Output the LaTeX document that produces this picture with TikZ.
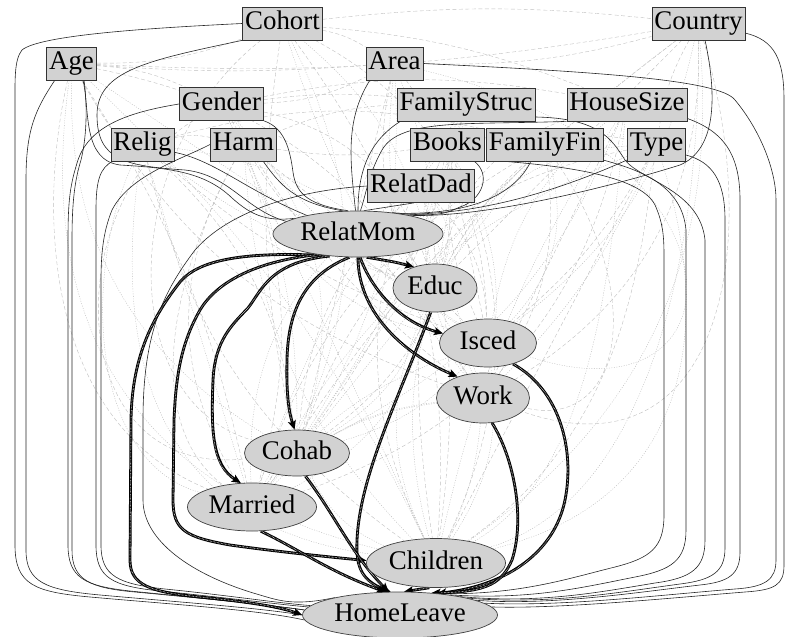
\documentclass[tikz,border=0pt]{standalone}
\usepackage{fontspec}
\setmainfont{Liberation Serif}
\usetikzlibrary{arrows.meta,shapes.geometric}
\pgfdeclarelayer{bg}
\pgfsetlayers{bg,main}
\begin{document}
\begin{tikzpicture}[x=1bp,y=-1bp,
  cov/.style={rectangle, draw=black!80, fill=gray!35, line width=0.7bp,
    font=\fontsize{27}{27}\selectfont, inner xsep=2.5bp, inner ysep=0bp,
    minimum height=33bp, text height=18bp, text depth=5.5bp},
  outc/.style={ellipse, draw=black!75, fill=gray!35, line width=0.7bp,
    font=\fontsize{27}{27}\selectfont, inner sep=0bp, text height=18bp, text depth=5.5bp},
  sol/.style={draw=black!85, line width=0.6bp},
  hat/.style={draw=black, line width=2.8bp, -{Stealth[length=9bp,width=8bp,inset=2bp]},
    postaction={draw=white!85!black, line width=0.9bp, dash pattern=on 0.5bp off 0.9bp, -, shorten >=9bp}},
  web/.style={draw=gray!55, line width=0.4bp, dash pattern=on 1bp off 1.5bp},
  webd/.style={draw=gray!50, line width=0.4bp, dash pattern=on 4bp off 2.5bp},
]
\useasboundingbox (0,0) rectangle (786,637);

% covariates
\node[cov] (Cohort) at (282.5,23.5) {Cohort};
\node[cov] (Country) at (698.5,23.5) {Country};
\node[cov] (Age) at (71.5,63.5) {Age};
\node[cov] (Area) at (394.5,63.5) {Area};
\node[cov] (Gender) at (221.5,104) {Gender};
\node[cov] (FamilyStruc) at (466,104.5) {FamilyStruc};
\node[cov] (HouseSize) at (627,104.5) {HouseSize};
\node[cov] (Relig) at (142.5,144.5) {Relig};
\node[cov] (Harm) at (243.5,144.5) {Harm};
\node[cov] (Books) at (447.5,144.5) {Books};
\node[cov] (FamilyFin) at (545,144.5) {FamilyFin};
\node[cov] (Type) at (656.5,144.5) {Type};
\node[cov] (RelatDad) at (421,186) {RelatDad};

% outcomes
\node[outc, minimum width=170bp, minimum height=46bp] (RelatMom) at (358,234) {RelatMom};
\node[outc, minimum width=84bp, minimum height=48bp] (Educ) at (435,288) {Educ};
\node[outc, minimum width=97bp, minimum height=48bp] (Isced) at (488,343) {Isced};
\node[outc, minimum width=93bp, minimum height=50bp] (Work) at (483,398) {Work};
\node[outc, minimum width=105bp, minimum height=46bp] (Cohab) at (297,453) {Cohab};
\node[outc, minimum width=129bp, minimum height=48bp] (Married) at (252,507) {Married};
\node[outc, minimum width=139bp, minimum height=49bp] (Children) at (436,563) {Children};
\node[outc, minimum width=195bp, minimum height=46bp] (HomeLeave) at (400,615) {HomeLeave};

\begin{pgfonlayer}{bg}
% faint web of dotted / dashed connectors
\foreach \a [count=\i] in {Cohort,Age,Area,Gender,FamilyStruc,HouseSize,Relig,Harm,Books,FamilyFin,Type,Country,RelatDad}{
  \foreach \b [count=\j] in {Educ,Isced,Work,Cohab,Married,Children}{
    \pgfmathtruncatemacro\bnd{mod(\i*3+\j*2,7)*10-30}
    \pgfmathtruncatemacro\sel{mod(\i+\j,2)}
    \ifnum\sel=0
      \draw[web] (\a) to[bend left=\bnd] (\b);
    \else
      \draw[webd] (\a) to[bend right=\bnd] (\b);
    \fi
  }
}
\foreach \a/\b/\c in {Cohort/Country/6,Age/Area/-4,Cohort/Area/10,Area/Country/-8,Gender/FamilyStruc/6,
  Age/Cohort/-10,Relig/Harm/12,Gender/HouseSize/10,Harm/Books/-8,Books/Type/10,Relig/FamilyFin/14,
  Age/Gender/10,Country/Type/-10,Cohort/HouseSize/8,Age/Country/-6,Gender/Area/-12,Harm/FamilyStruc/10}{
  \draw[webd] (\a) to[bend left=\c] (\b);
}
\foreach \a/\b/\c in {Educ/Cohab/20,Isced/Married/-15,Work/Children/10,Educ/Married/25,Cohab/Children/-20,
  Isced/Cohab/15,Work/Married/-20,Educ/Children/-25,Isced/Children/20,Work/Cohab/-10}{
  \draw[web] (\a) to[bend left=\c] (\b);
}
% faint side curves
\draw[webd] (Age) .. controls (40,200) and (38,420) .. (Married);
\draw[web] (Age) .. controls (50,220) and (52,470) .. (Children);
\draw[webd] (Gender) .. controls (60,200) and (58,480) .. (Cohab);
\draw[web] (Relig) .. controls (85,260) and (84,460) .. (Married);
\draw[webd] (Cohort) .. controls (120,150) and (112,400) .. (Cohab);
\draw[web] (Relig) .. controls (120,300) and (120,520) .. (Children);
\draw[webd] (Harm) .. controls (160,300) and (150,430) .. (Married);
\draw[web] (HouseSize) .. controls (610,250) and (600,470) .. (Children);
\draw[webd] (Type) .. controls (640,260) and (625,430) .. (Children);
\draw[web] (Country) .. controls (700,250) and (650,500) .. (Children);
\draw[webd] (Country) .. controls (765,250) and (720,480) .. (Work);
\draw[web] (Area) .. controls (760,150) and (750,430) .. (Isced);
\draw[webd] (FamilyFin) .. controls (650,300) and (620,430) .. (Work);
\draw[web] (Type) .. controls (715,330) and (690,500) .. (Children);

% solid edges into RelatMom
\draw[sol] (Cohort.south west) .. controls (150,60) and (97,70) .. (97,115)
  .. controls (97,160) and (125,166) .. (185,170) .. controls (230,175) and (245,210) .. (RelatMom.170);
\draw[sol] (83,80) .. controls (90,110) and (82,160) .. (120,165)
  .. controls (170,168) and (205,172) .. (232,198) .. controls (250,214) and (265,222) .. (RelatMom.166);
\draw[sol] (Gender.south east) .. controls (285,128) and (290,150) .. (293,172)
  .. controls (296,195) and (310,205) .. (RelatMom.113);
\draw[sol] (173,152) .. controls (215,160) and (245,190) .. (RelatMom.160);
\draw[sol] (263,161) .. controls (280,185) and (295,203) .. (RelatMom.122);
\draw[sol] (370,80) .. controls (345,120) and (350,160) .. (RelatMom.96);
\draw[sol] (401,121) .. controls (370,140) and (358,170) .. (RelatMom.90);
\draw[sol] (HouseSize.south west) .. controls (470,125) and (400,118) .. (382,150)
  .. controls (368,175) and (366,195) .. (RelatMom.84);
\draw[sol] (474,161) .. controls (492,175) and (482,200) .. (460,207) .. controls (448,212) and (442,218) .. (RelatMom.32);
\draw[sol] (531,161) .. controls (515,195) and (470,215) .. (RelatMom.28);
\draw[sol] (627,160) .. controls (560,190) and (480,215) .. (RelatMom.24);
\draw[sol] (705,40) .. controls (718,100) and (715,150) .. (680,165) .. controls (600,190) and (480,218) .. (RelatMom.20);
\draw[sol] (RelatDad.-112) -- (RelatMom.76);

% solid edges into HomeLeave, left side
\draw[sol] (Cohort.west) .. controls (150,28) and (40,35) .. (22,50) .. controls (14,60) and (15,80) .. (15,110)
  -- (15,545) .. controls (15,585) and (35,592) .. (90,597) .. controls (180,605) and (260,610) .. (HomeLeave.183);
\draw[sol] (55,80) .. controls (35,110) and (26,130) .. (26,180)
  -- (26,550) .. controls (26,582) and (45,590) .. (100,595) .. controls (190,603) and (260,608) .. (HomeLeave.180);
\draw[sol] (Gender.west) .. controls (130,112) and (90,125) .. (78,160) .. controls (70,185) and (68,200) .. (68,240)
  -- (68,545) .. controls (68,578) and (85,586) .. (130,591) .. controls (200,598) and (270,605) .. (HomeLeave.177);
\draw[sol] (84,80) .. controls (88,110) and (86,140) .. (81,160) .. controls (75,180) and (72,200) .. (72,240)
  -- (72,550) .. controls (72,580) and (90,588) .. (135,592) .. controls (210,599) and (270,605) .. (HomeLeave.177);
\draw[sol] (113,161) .. controls (100,168) and (96,180) .. (96,210)
  -- (96,545) .. controls (96,578) and (112,586) .. (160,591) .. controls (220,597) and (275,604) .. (HomeLeave.175);
\draw[sol] (Harm.west) .. controls (180,160) and (130,175) .. (112,210) .. controls (104,230) and (101,250) .. (101,280)
  -- (101,545) .. controls (101,576) and (118,584) .. (165,589) .. controls (225,595) and (278,603) .. (HomeLeave.174);
\draw[sol] (RelatDad.west) .. controls (300,190) and (230,210) .. (195,250) .. controls (165,290) and (143,330) .. (143,420)
  -- (143,500) .. controls (143,540) and (190,575) .. (260,595) .. controls (280,601) and (295,606) .. (HomeLeave.165);

% solid edges into HomeLeave, right side
\draw[sol] (486,160) .. controls (560,165) and (640,175) .. (655,205) .. controls (664,225) and (664,240) .. (664,260)
  -- (664,515) .. controls (664,548) and (650,558) .. (615,567) .. controls (570,578) and (520,595) .. (HomeLeave.28);
\draw[sol] (603,160) .. controls (640,170) and (682,185) .. (686,230)
  -- (686,530) .. controls (686,560) and (672,570) .. (635,577) .. controls (580,588) and (530,600) .. (HomeLeave.22);
\draw[sol] (535,117) .. controls (600,118) and (612,140) .. (625,160) .. controls (640,180) and (700,190) .. (705,240)
  -- (705,540) .. controls (705,568) and (692,578) .. (655,583) .. controls (600,592) and (540,604) .. (HomeLeave.17);
\draw[sol] (686,155) .. controls (712,162) and (725,180) .. (725,220)
  -- (725,548) .. controls (725,572) and (712,580) .. (680,584) .. controls (620,592) and (550,605) .. (HomeLeave.14);
\draw[sol] (686,118) .. controls (720,130) and (740,150) .. (740,200)
  -- (740,552) .. controls (740,575) and (728,582) .. (700,585) .. controls (640,592) and (550,606) .. (HomeLeave.11);
\draw[sol] (Area.east) .. controls (600,72) and (720,80) .. (735,100) .. controls (760,130) and (776,170) .. (776,200)
  -- (776,560) .. controls (776,580) and (765,587) .. (735,589) .. controls (660,595) and (560,607) .. (HomeLeave.8);
\draw[sol] (745,33) .. controls (775,40) and (784,60) .. (784,100)
  -- (784,565) .. controls (784,585) and (775,590) .. (745,592) .. controls (670,598) and (560,609) .. (HomeLeave.5);

% thick hatched edges
\draw[hat] (RelatMom.212) .. controls (250,252) and (200,258) .. (180,282) .. controls (150,320) and (132,360) .. (131,420)
  -- (130,560) .. controls (130,585) and (150,592) .. (200,597) .. controls (250,602) and (280,607) .. (HomeLeave.west);
\draw[hat] (RelatMom.207) .. controls (250,262) and (215,285) .. (200,310) .. controls (183,340) and (176,370) .. (174,420)
  -- (173,500) .. controls (173,530) and (185,537) .. (230,545) .. controls (280,552) and (330,557) .. (Children.178);
\draw[hat] (RelatMom.218) .. controls (270,262) and (262,290) .. (248,308) .. controls (232,325) and (215,340) .. (213,380)
  .. controls (211,430) and (212,465) .. (Married.115);
\draw[hat] (RelatMom.250) .. controls (305,275) and (288,310) .. (287,360) .. controls (286,400) and (290,415) .. (Cohab.96);
\draw[hat] (RelatMom.-70) .. controls (395,262) .. (Educ.135);
\draw[hat] (RelatMom.-85) .. controls (372,290) and (400,322) .. (Isced.168);
\draw[hat] (RelatMom.-90) .. controls (358,310) and (400,352) .. (Work.140);
\draw[hat] (Educ.-100) .. controls (398,400) and (360,475) .. (357,540) .. controls (356,565) and (360,580) .. (HomeLeave.112);
\draw[hat] (Cohab.-70) .. controls (335,515) and (352,555) .. (HomeLeave.116);
\draw[hat] (Married.-70) .. controls (300,550) and (330,572) .. (HomeLeave.122);
\draw[hat] (Children.-105) -- (HomeLeave.80);
\draw[hat] (Isced.-40) .. controls (560,390) and (575,450) .. (565,500) .. controls (555,550) and (510,585) .. (HomeLeave.30);
\draw[hat] (Work.-70) .. controls (515,460) and (525,520) .. (512,560) .. controls (502,582) and (490,592) .. (HomeLeave.35);
\end{pgfonlayer}
\end{tikzpicture}
\end{document}
